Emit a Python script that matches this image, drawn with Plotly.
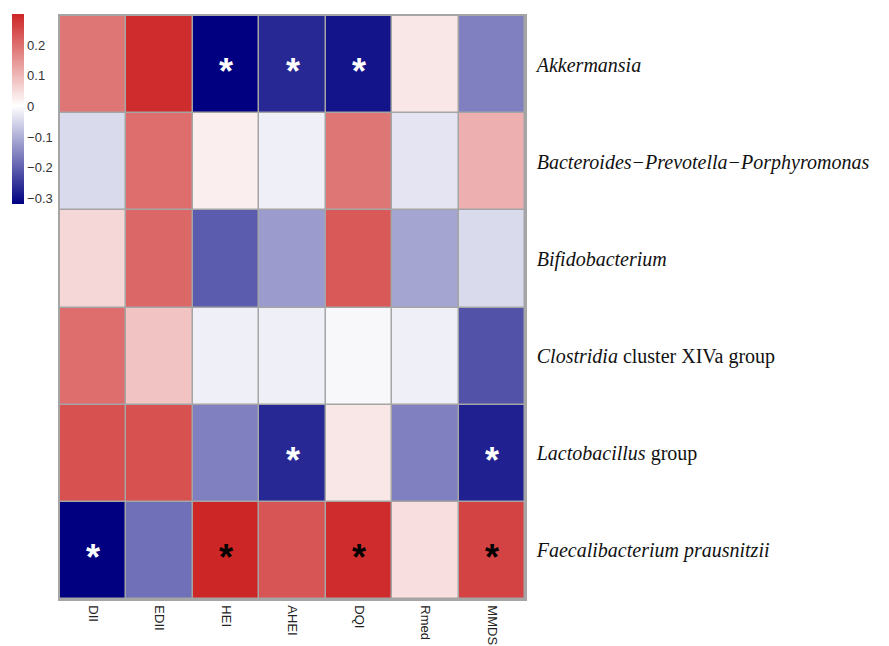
import plotly.graph_objects as go

indices = ["DII", "EDII", "HEI", "AHEI", "DQI", "Rmed", "MMDS"]
taxa = ["Akkermansia", "Bacteroides−Prevotella−Porphyromonas", "Bifidobacterium",
        "Clostridia cluster XIVa group", "Lactobacillus group", "Faecalibacterium prausnitzii"]
taxa_labels = ["<i>Akkermansia</i>", "<i>Bacteroides−Prevotella−Porphyromonas</i>",
               "<i>Bifidobacterium</i>", "<i>Clostridia</i> cluster XIVa group",
               "<i>Lactobacillus</i> group", "<i>Faecalibacterium prausnitzii</i>"]

corr_akkermansia = [0.19, 0.29, -0.32, -0.27, -0.295, 0.035, -0.16]
corr_bacteroides = [-0.046, 0.20, 0.024, -0.02, 0.19, -0.034, 0.11]
corr_bifido = [0.055, 0.21, -0.205, -0.125, 0.23, -0.113, -0.046]
corr_clostridia = [0.20, 0.083, -0.02, -0.02, -0.009, -0.02, -0.217]
corr_lacto = [0.24, 0.24, -0.16, -0.27, 0.035, -0.16, -0.28]
corr_faecali = [-0.32, -0.18, 0.30, 0.235, 0.29, 0.045, 0.26]

signif_akkermansia = ["", "", "*", "*", "*", "", ""]
signif_bacteroides = ["", "", "", "", "", "", ""]
signif_bifido = ["", "", "", "", "", "", ""]
signif_clostridia = ["", "", "", "", "", "", ""]
signif_lacto = ["", "", "", "*", "", "", "*"]
signif_faecali = ["*", "", "*", "", "*", "", "*"]

cbar_ticks = [-0.3, -0.2, -0.1, 0, 0.1, 0.2]

z = [corr_akkermansia, corr_bacteroides, corr_bifido, corr_clostridia, corr_lacto, corr_faecali]
sig = [signif_akkermansia, signif_bacteroides, signif_bifido, signif_clostridia, signif_lacto, signif_faecali]

zmin, zmax = -0.32, 0.30
mid = (0 - zmin) / (zmax - zmin)

W, H = 881, 638  # page body has an 8px margin

fig = go.Figure(go.Heatmap(
    z=z, x=indices, y=taxa,
    zmin=zmin, zmax=zmax,
    colorscale=[[0, "rgb(0,0,128)"], [mid, "rgb(255,255,255)"], [1, "rgb(205,38,38)"]],
    xgap=1.5, ygap=1.5,
    hoverongaps=False,
    colorbar=dict(
        xref="container", yref="container",
        x=4 / W, xanchor="left",
        y=1 - 7 / H, yanchor="top",
        thickness=12, thicknessmode="pixels",
        len=190, lenmode="pixels",
        outlinewidth=0,
        tickvals=cbar_ticks,
        ticktext=["−0.3", "−0.2", "−0.1", "0", "0.1", "0.2"],
        ticks="", ticklabelposition="outside",
        tickfont=dict(family="Liberation Sans, Arial", size=13, color="#333333"),
        xpad=0, ypad=0,
    ),
))

for i, row in enumerate(sig):
    for j, s in enumerate(row):
        if s:
            col = "white" if z[i][j] < 0 else "black"
            fig.add_annotation(x=indices[j], y=taxa[i], text="<b>*</b>", showarrow=False,
                               yshift=-7,
                               font=dict(family="Liberation Sans, Arial", size=36, color=col))

fig.update_layout(
    width=W, height=H,
    margin=dict(l=52, r=364, t=8, b=47, autoexpand=False),
    plot_bgcolor="rgb(165,165,165)",
    paper_bgcolor="white",
    showlegend=False,
)
fig.update_xaxes(
    type="category", tickangle=90, side="bottom",
    tickfont=dict(family="Liberation Sans, Arial", size=13, color="#222222"),
    showgrid=False, zeroline=False,
    showline=True, mirror=True, linecolor="rgb(165,165,165)", linewidth=1.5,
    ticks="", ticklabelstandoff=2,
)
fig.update_yaxes(
    type="category", autorange="reversed", side="right",
    tickvals=taxa, ticktext=taxa_labels,
    tickfont=dict(family="Liberation Serif, Times New Roman", size=20, color="#111111"),
    showgrid=False, zeroline=False,
    showline=True, mirror=True, linecolor="rgb(165,165,165)", linewidth=1.5,
    ticks="", ticklabelstandoff=6,
)

fig.write_html("out.html")
